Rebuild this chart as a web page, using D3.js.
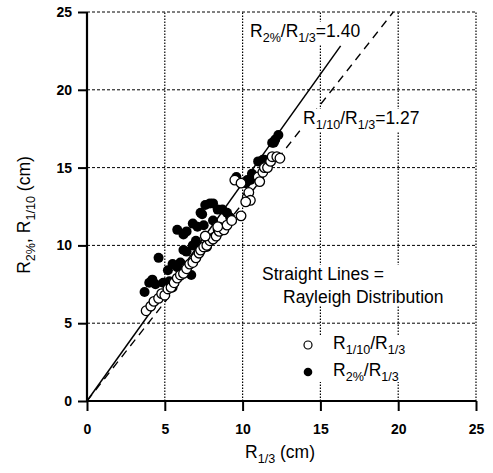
<!DOCTYPE html>
<html>
<head>
<meta charset="utf-8">
<script src="https://cdn.jsdelivr.net/npm/d3@7"></script>
<style>
  html, body { margin: 0; padding: 0; background: #fff; }
  svg { display: block; }
  text { font-family: "Liberation Sans", Arial, Helvetica, sans-serif; fill: #000; }
</style>
</head>
<body>
<svg id="chart" width="493" height="473"></svg>
<script>
// R1/3 (cm) vs R1/10 (cm)  -- open circles
const r110X = [3.8, 4.1, 4.3, 4.6, 4.8, 5.0, 5.2, 5.4, 5.6, 5.8, 6.0, 6.2, 6.4, 6.6, 6.8,
               7.0, 7.2, 7.3, 7.5, 7.7, 7.9, 8.1, 8.3, 8.5, 8.8, 9.0, 9.3, 8.4, 7.6, 9.9,
               9.5, 9.9, 10.3, 10.4, 10.5, 10.2, 11.0, 11.1, 11.3, 11.4, 11.6, 11.8, 11.9, 12.2, 12.4];
const r110Y = [5.8, 6.1, 6.4, 6.6, 6.9, 6.8, 7.2, 7.3, 7.6, 7.9, 8.1, 8.2, 8.5, 8.8, 8.9,
               9.2, 9.5, 9.7, 9.9, 10.0, 10.3, 10.4, 10.6, 10.9, 11.0, 11.3, 11.6, 11.2, 10.6, 11.9,
               14.2, 14.0, 13.1, 13.4, 12.9, 12.8, 14.4, 14.1, 14.7, 15.0, 15.0, 15.4, 15.7, 15.7, 15.6];

// R1/3 (cm) vs R2% (cm)  -- filled circles
const r2X = [3.7, 4.0, 4.2, 4.4, 4.6, 4.9, 5.2, 5.3, 5.5, 5.2, 5.5, 5.8, 6.0, 6.2, 6.4,
             6.7, 5.8, 6.2, 6.4, 6.8, 7.1, 7.3, 7.4, 7.5, 7.6, 7.9, 8.1, 8.1, 8.4, 8.5,
             8.7, 9.0, 9.2, 8.4, 8.1, 7.7, 7.0, 6.8, 9.6, 10.2, 10.3, 10.6, 10.5, 11.0, 11.3,
             11.4, 11.9, 12.0, 12.1, 12.3];
const r2Y = [7.0, 7.6, 7.8, 7.5, 9.2, 7.6, 7.5, 7.7, 7.3, 8.4, 8.8, 8.6, 8.9, 9.7, 9.6,
             8.1, 11.0, 10.7, 10.9, 11.4, 11.2, 12.1, 12.0, 11.3, 12.6, 12.7, 12.7, 11.6, 12.3, 11.2,
             12.3, 12.1, 11.8, 11.0, 10.5, 9.9, 10.3, 10.0, 14.4, 14.0, 14.2, 14.6, 14.2, 15.4, 15.5,
             15.5, 16.6, 16.6, 16.8, 17.1];

// Rayleigh ratios
const ratio2 = 1.40;
const ratio110 = 1.27;

const ticks = [0, 5, 10, 15, 20, 25];

const svg = d3.select("#chart");
const x = d3.scaleLinear().domain([0, 25]).range([87, 476]);
const y = d3.scaleLinear().domain([0, 25]).range([401, 12]);

// grid: dashed horizontals, dotted verticals
svg.append("g").selectAll("line").data(ticks.slice(1)).join("line")
  .attr("x1", x(0)).attr("x2", x(25))
  .attr("y1", d => y(d)).attr("y2", d => y(d))
  .attr("stroke", "#000").attr("stroke-width", 1)
  .attr("stroke-dasharray", "3,2");
svg.append("g").selectAll("line").data(ticks.slice(1)).join("line")
  .attr("y1", y(0)).attr("y2", y(25))
  .attr("x1", d => x(d)).attr("x2", d => x(d))
  .attr("stroke", "#000").attr("stroke-width", 1.2)
  .attr("stroke-dasharray", "1.5,1.5");

// axes
const xAxis = d3.axisBottom(x).tickValues(ticks).tickSize(10).tickPadding(13);
const yAxis = d3.axisLeft(y).tickValues(ticks).tickSize(9).tickPadding(6);
const gx = svg.append("g").attr("transform", `translate(0,${y(0)})`).call(xAxis);
const gy = svg.append("g").attr("transform", `translate(${x(0)},0)`).call(yAxis);
[gx, gy].forEach(g => {
  g.select(".domain").attr("stroke", "#000").attr("stroke-width", 2.2)
    .attr("d", g === gx ? `M${x(0)},0H${x(25)}` : `M0,${y(0)}V${y(25)}`);
  g.selectAll(".tick line").attr("stroke", "#000").attr("stroke-width", 2);
  g.selectAll(".tick text").attr("font-size", 14).attr("font-weight", "bold")
    .attr("font-family", "Liberation Sans, Arial, sans-serif").attr("fill", "#000");
});

// Rayleigh lines
const dashedEnd = 25 / ratio110;
svg.append("line")
  .attr("x1", x(0)).attr("y1", y(0))
  .attr("x2", x(dashedEnd)).attr("y2", y(dashedEnd * ratio110))
  .attr("stroke", "#000").attr("stroke-width", 1.3).attr("stroke-dasharray", "8,6");
svg.append("line")
  .attr("x1", x(0)).attr("y1", y(0))
  .attr("x2", x(16.3)).attr("y2", y(16.3 * ratio2))
  .attr("stroke", "#000").attr("stroke-width", 1.5);

// data points
svg.append("g").selectAll("circle").data(d3.range(r2X.length)).join("circle")
  .attr("cx", i => x(r2X[i])).attr("cy", i => y(r2Y[i])).attr("r", 5)
  .attr("fill", "#000");
svg.append("g").selectAll("circle").data(d3.range(r110X.length)).join("circle")
  .attr("cx", i => x(r110X[i])).attr("cy", i => y(r110Y[i])).attr("r", 4.8)
  .attr("fill", "#fff").attr("stroke", "#000").attr("stroke-width", 1.3);

// annotation layer: white boxes go underneath the labels
const boxLayer = svg.append("g");
const labelLayer = svg.append("g");

// text with subscripts: parts are [string, isSubscript]
function subText(parent, px, py, parts, size, opts = {}) {
  const t = parent.append("text").attr("x", px).attr("y", py)
    .attr("font-size", size);
  if (opts.anchor) t.attr("text-anchor", opts.anchor);
  if (opts.transform) t.attr("transform", opts.transform);
  const shift = size * 0.3;
  let offset = 0;
  parts.forEach(([s, sub]) => {
    const target = sub ? shift : 0;
    const ts = t.append("tspan").attr("dy", target - offset).text(s);
    if (sub) ts.attr("font-size", size * 0.72);
    offset = target;
  });
  return t;
}

// white backing box around a group of text nodes
function backing(nodes, padX, padY) {
  const boxes = nodes.map(n => n.node().getBBox());
  const x0 = d3.min(boxes, b => b.x) - padX, x1 = d3.max(boxes, b => b.x + b.width) + padX;
  const y0 = d3.min(boxes, b => b.y) - padY, y1 = d3.max(boxes, b => b.y + b.height) + padY;
  boxLayer.append("rect").attr("x", x0).attr("y", y0)
    .attr("width", x1 - x0).attr("height", y1 - y0).attr("fill", "#fff");
}

const fs = 17.5;
const lab2 = subText(labelLayer, 250, 37, [["R"], ["2%", 1], ["/R"], ["1/3", 1], ["=1.40"]], fs);
const lab110 = subText(labelLayer, 303, 124, [["R"], ["1/10", 1], ["/R"], ["1/3", 1], ["=1.27"]], fs);
backing([lab2], 1, -1);
backing([lab110], 2, -1);

const note1 = labelLayer.append("text").attr("x", 262).attr("y", 280).attr("font-size", fs).text("Straight Lines =");
const note2 = labelLayer.append("text").attr("x", 283).attr("y", 303).attr("font-size", fs).text("Rayleigh Distribution");
backing([note1, note2], 2, -1);

// legend
const legBox = boxLayer.append("rect").attr("x", 298).attr("y", 336)
  .attr("width", 118).attr("height", 46).attr("fill", "#fff");
labelLayer.append("circle").attr("cx", 308).attr("cy", 345).attr("r", 4)
  .attr("fill", "#fff").attr("stroke", "#000").attr("stroke-width", 1.2);
labelLayer.append("circle").attr("cx", 308).attr("cy", 372).attr("r", 4.3).attr("fill", "#000");
subText(labelLayer, 333, 349, [["R"], ["1/10", 1], ["/R"], ["1/3", 1]], fs);
subText(labelLayer, 333, 376, [["R"], ["2%", 1], ["/R"], ["1/3", 1]], fs);

// axis titles
subText(svg, 280, 458, [["R"], ["1/3", 1], [" (cm)"]], fs, { anchor: "middle" });
subText(svg, 0, 0, [["R"], ["2%", 1], [", R"], ["1/10", 1], [" (cm)"]], fs,
  { anchor: "middle", transform: "translate(30,215) rotate(-90)" });
</script>
</body>
</html>
